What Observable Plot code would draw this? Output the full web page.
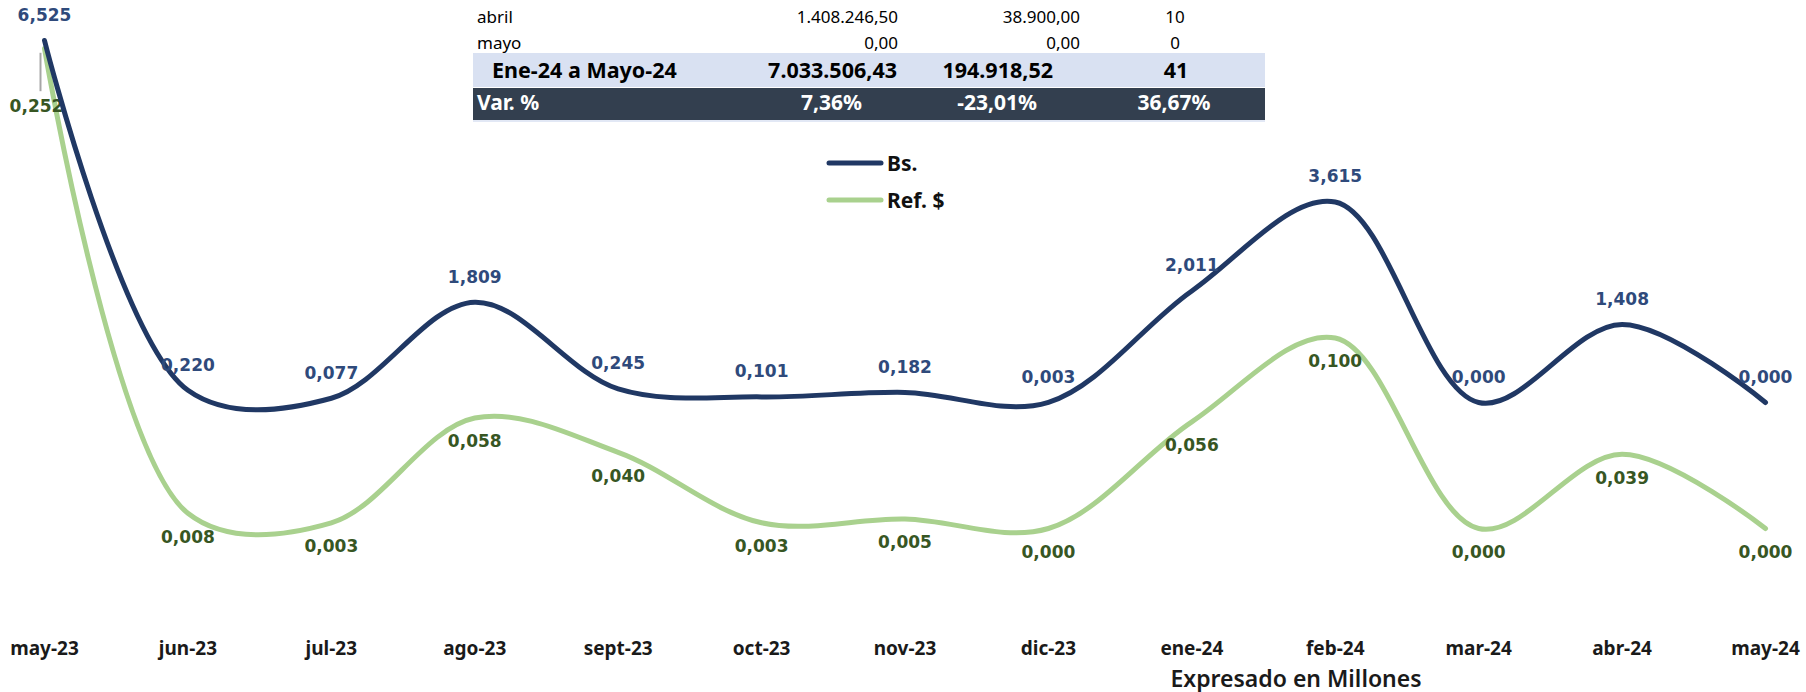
<!DOCTYPE html>
<html>
<head>
<meta charset="utf-8">
<script src="https://cdn.jsdelivr.net/npm/d3@7"></script>
<script src="https://cdn.jsdelivr.net/npm/@observablehq/plot@0.6"></script>
<style>
  body { margin: 0; background: #ffffff; }
  #wrap { position: relative; width: 1806px; height: 692px; overflow: hidden; background: #ffffff; }
  #wrap > svg { position: absolute; left: 0; top: 0; }
  #note { position: absolute; left: 1296px; top: 678px; transform: translate(-50%, -50%);
          font: 600 23px "Noto Sans", sans-serif; line-height: 1; color: #1a1a1a; white-space: nowrap; }
</style>
</head>
<body>
<div id="wrap"></div>
<script>
// ---------- data ----------
const months = ["may-23","jun-23","jul-23","ago-23","sept-23","oct-23","nov-23","dic-23","ene-24","feb-24","mar-24","abr-24","may-24"];
const bsValues  = [6.525, 0.220, 0.077, 1.809, 0.245, 0.101, 0.182, 0.003, 2.011, 3.615, 0.000, 1.408, 0.000];
const refValues = [0.252, 0.008, 0.003, 0.058, 0.040, 0.003, 0.005, 0.000, 0.056, 0.100, 0.000, 0.039, 0.000];
const seriesNames = ["Bs.", "Ref. $"];
const seriesColors = ["#203864", "#A9D18E"];
const labelColors = ["#2F4A7B", "#375623"];
const axisNote = "Expresado en Millones";

const tableMonthRows = [
  ["abril", "1.408.246,50", "38.900,00", "10"],
  ["mayo", "0,00", "0,00", "0"]
];
const tableTotalRow = ["Ene-24 a Mayo-24", "7.033.506,43", "194.918,52", "41"];
const tableVarRow = ["Var. %", "7,36%", "-23,01%", "36,67%"];

// ---------- helpers ----------
const fmt = v => d3.format(".3f")(v).replace(".", ",");
const bsData = months.map((m, i) => ({i, month: m, value: bsValues[i]}));
const refData = months.map((m, i) => ({i, month: m, value: refValues[i]}));

const W = 1806, H = 692;
const wrap = document.getElementById("wrap");
const labelFont = "DejaVu Sans, Verdana, sans-serif";
const common = {
  width: W, height: H, marginLeft: 44, marginRight: 41,
  style: {background: "transparent", overflow: "visible"}
};

// ---------- secondary series (Ref. $) with the category axis ----------
const refPlot = Plot.plot({
  ...common,
  marginTop: 48, marginBottom: 164,
  x: {type: "linear", domain: [0, months.length - 1]},
  y: {domain: [0, refValues[0]], axis: null},
  marks: [
    Plot.axisX({
      ticks: d3.range(months.length), tickFormat: i => months[i],
      tickSize: 0, tickPadding: 113, label: null,
      fontSize: 19, fontWeight: "bold", fontFamily: "Noto Sans, sans-serif", color: "#1a1a1a"
    }),
    Plot.lineY(refData, {x: "i", y: "value", stroke: seriesColors[1], strokeWidth: 5,
      curve: "catmull-rom", strokeLinecap: "round", strokeLinejoin: "round"}),
    Plot.ruleX(refData.slice(0, 1), {x: "i", y1: d => d.value * 0.99, y2: d => d.value * 0.91,
      dx: -4, stroke: "#A6A6A6", strokeWidth: 2}),
    Plot.text(refData.slice(1), {x: "i", y: "value", text: d => fmt(d.value), dy: 24,
      fill: labelColors[1], fontSize: 17, fontWeight: "bold", fontFamily: labelFont}),
    Plot.text(refData.slice(0, 1), {x: "i", y: "value", text: d => fmt(d.value), dx: -8, dy: 58,
      fill: labelColors[1], fontSize: 17, fontWeight: "bold", fontFamily: labelFont})
  ]
});
wrap.appendChild(refPlot);

// ---------- primary series (Bs.) ----------
const bsPlot = Plot.plot({
  ...common,
  marginTop: 40, marginBottom: 290,
  x: {type: "linear", domain: [0, months.length - 1], axis: null},
  y: {domain: [0, bsValues[0]], axis: null},
  marks: [
    Plot.lineY(bsData, {x: "i", y: "value", stroke: seriesColors[0], strokeWidth: 5,
      curve: "catmull-rom", strokeLinecap: "round", strokeLinejoin: "round"}),
    Plot.text(bsData, {x: "i", y: "value", text: d => fmt(d.value), dy: -25,
      fill: labelColors[0], fontSize: 17, fontWeight: "bold", fontFamily: labelFont})
  ]
});
wrap.appendChild(bsPlot);

// ---------- table + legend overlay ----------
const svg = d3.select(wrap).append("svg").attr("width", W).attr("height", H)
  .style("pointer-events", "none").style("font-family", "Noto Sans, sans-serif");

svg.append("rect").attr("x", 473).attr("y", 53).attr("width", 792).attr("height", 34).attr("fill", "#D9E1F2");
svg.append("rect").attr("x", 473).attr("y", 88).attr("width", 792).attr("height", 32).attr("fill", "#333F4F");
svg.append("line").attr("x1", 473).attr("x2", 1265).attr("y1", 121).attr("y2", 121).attr("stroke", "#D9E1F2").attr("stroke-width", 1.5);

const colAnchors = [["start", 477], ["end", 898], ["end", 1080], ["middle", 1175]];
tableMonthRows.forEach((row, r) => {
  row.forEach((t, c) => {
    svg.append("text").attr("x", colAnchors[c][1]).attr("y", 23 + r * 25.5)
      .attr("text-anchor", colAnchors[c][0]).attr("font-size", 17).attr("fill", "#000").text(t);
  });
});
const totalAnchors = [["start", 492], ["end", 897], ["end", 1053], ["middle", 1176]];
tableTotalRow.forEach((t, c) => {
  svg.append("text").attr("x", totalAnchors[c][1]).attr("y", 78)
    .attr("text-anchor", totalAnchors[c][0]).attr("font-size", 21.5).attr("font-weight", "bold")
    .attr("fill", "#000").text(t);
});
const varAnchors = [["start", 477], ["end", 862], ["end", 1037], ["middle", 1174]];
tableVarRow.forEach((t, c) => {
  svg.append("text").attr("x", varAnchors[c][1]).attr("y", 110)
    .attr("text-anchor", varAnchors[c][0]).attr("font-size", 21).attr("font-weight", "bold")
    .attr("fill", "#fff").text(t);
});

// legend
seriesNames.forEach((name, k) => {
  const y = 163 + k * 37;
  svg.append("line").attr("x1", 829).attr("x2", 881).attr("y1", y).attr("y2", y)
    .attr("stroke", seriesColors[k]).attr("stroke-width", 5).attr("stroke-linecap", "round");
  svg.append("text").attr("x", 887).attr("y", y + 7.5).attr("font-size", 21).attr("font-weight", "bold")
    .attr("fill", "#111").text(name);
});

// axis note
const note = document.createElement("div");
note.id = "note";
note.textContent = axisNote;
wrap.appendChild(note);
</script>
</body>
</html>
